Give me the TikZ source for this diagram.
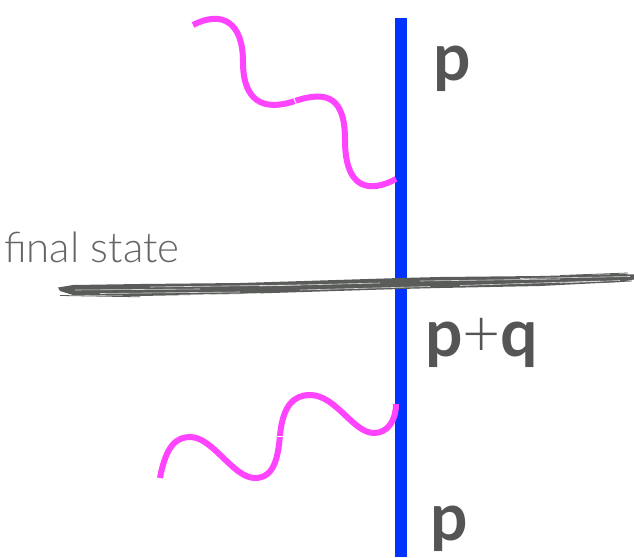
\documentclass[tikz,border=0pt]{standalone}
\usepackage{fontspec}
\setmainfont{Lato}
\newfontfamily\lightfont{Lato Light}
\definecolor{fermblue}{HTML}{0033FF}
\definecolor{photpink}{HTML}{FF44FF}
\definecolor{brushgray}{HTML}{5A5C5A}
\definecolor{labelgray}{HTML}{555555}
\begin{document}
\begin{tikzpicture}[x=1pt,y=-1pt,
  fermion/.style={draw=fermblue,line width=12pt},
  photon/.style={draw=photpink,line width=6pt},
  gapcut/.style={draw=white,line width=1pt},
  brush/.style={fill=brushgray},
  streak/.style={draw=white,line width=0.6pt,opacity=0.75},
  frag/.style={draw=brushgray,line width=0.8pt},
  momlabel/.style={text=labelgray,font=\bfseries\fontsize{66}{70}\selectfont,inner sep=0pt,anchor=base west},
  statelabel/.style={text=labelgray!90,font=\lightfont\fontsize{42}{45}\selectfont,inner sep=0pt,anchor=base west}]
\useasboundingbox (0,0) rectangle (634,557);
% fermion line
\coordinate (ftop) at (401,18);
\coordinate (fbot) at (401,557);
\draw[fermion] (ftop) -- (fbot);
% vertices on the fermion line
\coordinate (v1) at (396,179);
\coordinate (v2) at (396,404);
\coordinate (p1) at (193,25);
\coordinate (p2) at (160,478);
% upper photon
\draw[photon] (p1) .. controls (222,10) and (243,22) .. (243,62)
  .. controls (243,100) and (262,112) .. (295,101)
  .. controls (328,90) and (345,98) .. (345,140)
  .. controls (345,190) and (370,193) .. (v1);
\draw[gapcut] (293,96) -- (297,106);
% lower photon
\draw[photon] (p2) .. controls (166,445) and (177,437) .. (190,437)
  .. controls (213,437) and (233,478) .. (255,478)
  .. controls (274,478) and (278,458) .. (280,435)
  .. controls (283,405) and (294,395) .. (310,395)
  .. controls (336,395) and (353,433) .. (374,433)
  .. controls (388,433) and (396,420) .. (v2);
\draw[gapcut] (275,436) -- (286,436);
% brush stroke (final state cut)
\fill[brush] (58,287.5) -- (73,285) -- (140,284) -- (240,283) -- (400,278) -- (440,277) -- (540,276) -- (620,274) -- (634,274.5)
  -- (634,279.5) -- (620,282) -- (540,286) -- (440,288) -- (400,289) -- (240,294) -- (140,296) -- (73,295) -- (60,291) -- cycle;
\draw[streak] (75,290) -- (200,289);
\draw[streak] (100,293.5) -- (240,292);
\draw[streak] (150,287) -- (300,285);
\draw[streak] (260,286) -- (380,283);
\draw[streak] (300,290) -- (430,286.5);
\draw[streak] (420,281) -- (560,279);
\draw[streak] (460,285.5) -- (600,281);
\draw[streak] (520,278.5) -- (630,276.5);
\draw[streak] (560,283) -- (620,280.5);
\draw[streak] (180,295) -- (260,293.5);
\draw[frag] (560,275.5) -- (628,273);
\draw[frag] (60,295.5) -- (140,296.8);
\draw[frag] (600,282.5) -- (632,281);
% labels
\node[momlabel] (ltop) at (433,80) {p};
\node[momlabel] (lmid) at (425,356) {p{\mdseries\lightfont+}q};
\node[momlabel] (lbot) at (430,540) {p};
\node[statelabel] (lfs) at (4,262) {final state};
\end{tikzpicture}
\end{document}
